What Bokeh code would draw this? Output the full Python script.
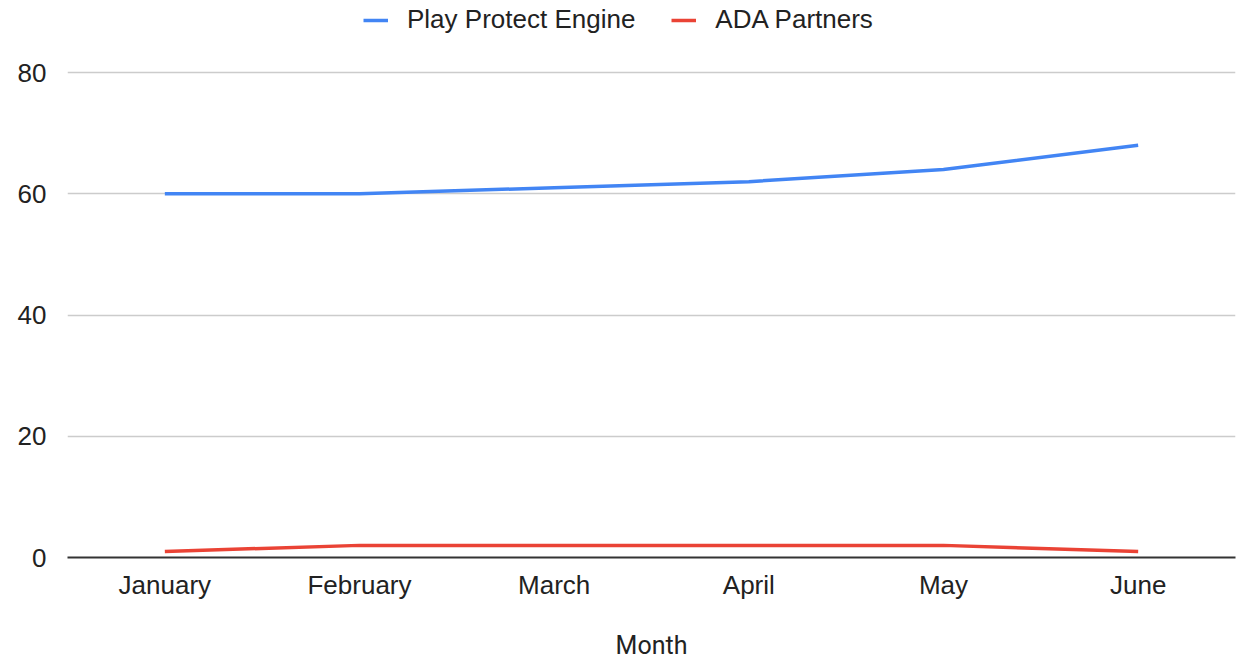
from bokeh.plotting import figure
from bokeh.models import Range1d, FixedTicker, Legend, LegendItem
from bokeh.embed import file_html
from bokeh.resources import INLINE

months = ["January", "February", "March", "April", "May", "June"]
play_protect = [60, 60, 61, 62, 64, 68]
ada_partners = [1, 2, 2, 2, 2, 1]
y_ticks = [0, 20, 40, 60, 80]

BLUE = "#4285f4"
RED = "#ea4335"
FONT = "Liberation Sans"

# frame spans the full top so the legend (drawn inside the frame) is not clipped
p = figure(x_range=months, y_range=Range1d(0, 91.88), width=1238, height=662,
           output_backend="svg", toolbar_location=None,
           min_border_left=67, min_border_right=3, min_border_top=0,
           min_border_bottom=105)
p.outline_line_color = None
p.background_fill_color = "white"

r1 = p.line(months, play_protect, line_color=BLUE, line_width=3.5)
r2 = p.line(months, ada_partners, line_color=RED, line_width=3.5)

p.yaxis.ticker = FixedTicker(ticks=y_ticks)
p.yaxis.axis_line_color = None
p.yaxis.major_tick_line_color = None
p.yaxis.minor_tick_line_color = None
p.yaxis.major_label_standoff = 15
p.yaxis.major_label_text_font = FONT
p.yaxis.major_label_text_font_size = "26px"
p.yaxis.major_label_text_color = "#222222"

p.xaxis.axis_line_color = "#333333"
p.xaxis.axis_line_width = 2
p.xaxis.major_tick_line_color = None
p.xaxis.minor_tick_line_color = None
p.xaxis.major_label_standoff = 6
p.xaxis.major_label_text_font = FONT
p.xaxis.major_label_text_font_size = "26px"
p.xaxis.major_label_text_color = "#222222"
p.xaxis.axis_label = "Month"
p.xaxis.axis_label_text_font = "Roboto"
p.xaxis.axis_label_text_font_style = "normal"
p.xaxis.axis_label_text_font_size = "25px"
p.xaxis.axis_label_text_color = "#222222"
p.xaxis.axis_label_standoff = 28

p.xgrid.grid_line_color = None
p.ygrid.grid_line_color = "#cccccc"
p.ygrid.grid_line_width = 1.5

legend = Legend(items=[LegendItem(label="Play Protect Engine", renderers=[r1]),
                       LegendItem(label="ADA Partners", renderers=[r2])],
                orientation="horizontal", location=(296, 522),
                glyph_width=25, glyph_height=20, label_standoff=19, spacing=36,
                padding=0, margin=0, border_line_color=None,
                background_fill_alpha=0,
                label_text_font=FONT, label_text_font_size="26px",
                label_text_color="#222222")
p.add_layout(legend)

open("out.html", "w").write(file_html(p, INLINE))
